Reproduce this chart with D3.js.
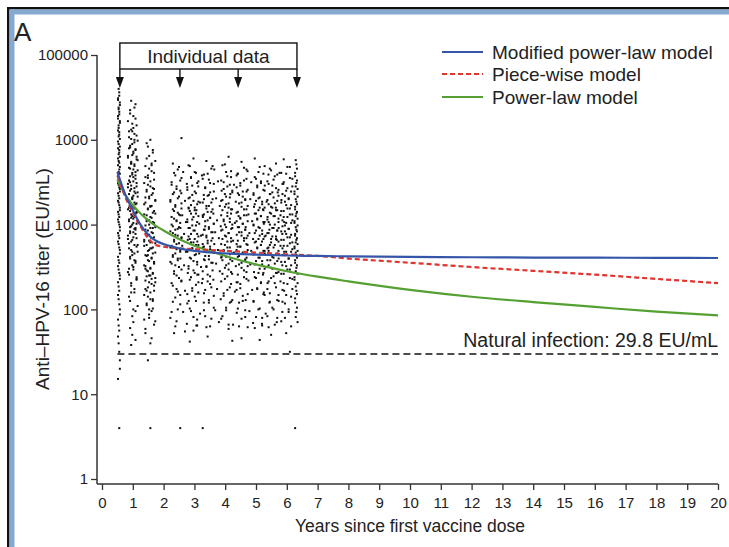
<!DOCTYPE html>
<html>
<head>
<meta charset="utf-8">
<script src="https://cdn.jsdelivr.net/npm/d3@7"></script>
<style>
body { margin: 0; background: #fff; }
text { font-family: "Liberation Sans", Arial, Helvetica, sans-serif; fill: #222; }
</style>
</head>
<body>
<div id="chart"></div>
<script>
// axis ticks
var xTicks = [0, 1, 2, 3, 4, 5, 6, 7, 8, 9, 10, 11, 12, 13, 14, 15, 16, 17, 18, 19, 20];
var yTicks = [1, 10, 100, 1000, 10000, 100000];
var yTickLabels = ["1", "10", "100", "1000", "1000", "100000"]; // as printed

// model curves (years, EU/mL)
var curveTimes = [0.5, 0.75, 1, 1.25, 1.5, 1.75, 2, 2.5, 3, 4, 5, 6, 7, 8, 10, 12, 14, 16, 18, 20];
var modifiedPowerLaw = [4170, 2290, 1480, 1000, 759, 646, 589, 525, 490, 457, 442, 432, 427, 422, 417, 412, 409, 407, 406, 404];
var pieceWise = [3800, 2140, 1380, 955, 692, 575, 550, 525, 513, 490, 468, 447, 427, 398, 355, 316, 285, 257, 229, 204];
var powerLaw = [3390, 2265, 1700, 1350, 1120, 966, 851, 676, 562, 427, 339, 282, 243, 214, 170, 141, 122, 107, 94, 85];

var seriesNames = ["Modified power-law model", "Piece-wise model", "Power-law model"];
var naturalInfection = 29.8;
var arrowTimes = [0.58, 2.53, 4.42, 6.33];

// individual data: per visit, tokens "dLLL" = time offset step d, log10 titer * 100
var visitTimes = [0.55, 1.0, 1.55, 2.4, 2.95, 3.45, 4.05, 4.55, 5.1, 5.55, 6.0, 6.3,
  0.55, 1.0, 1.0, 1.55, 1.55, 2.4, 2.95, 3.45, 4.05, 4.55, 5.1, 5.55, 6.0, 6.3,
  2.68, 3.2, 3.75, 4.3, 4.8, 5.33, 5.78];
var visitStep = [0.02, 0.035, 0.04, 0.04, 0.04, 0.04, 0.04, 0.04, 0.04, 0.04, 0.04, 0.02,
  0.02, 0.035, 0.035, 0.04, 0.04, 0.04, 0.04, 0.04, 0.04, 0.04, 0.04, 0.04, 0.04, 0.02,
  0.03, 0.03, 0.03, 0.03, 0.03, 0.03, 0.03];
var visitPoints = [
  "4460 5452 3447 6441 4436 5430 3425 6420 4414 5409 4404 3398 6392 5388 4383 3378 5373 6368 4362 3357 5352 4347 6342 3337 5331 4326 6320 3315 5309 4303 6297 3290 5284 4277 6270 3262 5255 4247 6240 3232 5222 4212 6200 3188 5175 4160 6140 3118 5060",
  "3446 6438 2431 7425 4419 5414 1410 8405 3401 6397 2393 7389 5386 4382 0379 9376 3372 6369 2366 7362 4359 5356 1352 8349 3346 6343 2340 7337 5334 4331 1328 8325 3322 6319 2316 7313 4310 5307 1304 8301 3298 6295 2292 7289 5285 4282 1278 8274 3270 6266 2262 7257 4252 5247 1241 8235 3228 6220 2210 7198 5185 4170 3158",
  "5400 3392 7385 2378 6372 4366 8361 1356 5351 3347 7343 2339 6335 4331 9328 0324 5321 3318 7314 2311 6308 4305 8302 1299 5296 3293 7290 2287 6284 4281 9278 0275 5272 3269 7266 2263 6260 4257 8254 1251 5248 3245 7242 2239 6236 4232 8228 1224 5220 3215 7210 2205 6198 4190 8182 1172 5160 3140 5060",
  "2372 6365 4358 8352 1347 5342 3338 7333 0329 9325 4321 2318 6314 8311 3307 5304 1300 7297 4294 2290 6287 9284 3280 5277 0273 8270 4266 2262 6258 1254 7250 3245 5240 9234 2228 6221 4214 8206 1197 5186 3172 9402 8060",
  "5378 2369 7361 3355 8349 0344 6339 4335 1331 9327 3323 6320 2316 7313 5309 0306 8303 4299 1296 6293 3289 9286 2283 5279 7276 4272 0268 6264 3260 8256 1251 5246 9241 2235 7229 4222 6215 0207 3198 8188 5175 2162",
  "3375 7366 1359 5353 9348 2343 6338 4334 8330 0326 5322 3319 7315 1312 6308 4305 9301 2298 5295 8291 0288 3285 7281 4278 1274 6271 9267 2263 5259 8255 3250 0245 6239 4233 7226 1219 5211 9202 2192 6180 4168 0060",
  "6380 1370 4362 8356 2350 5345 9340 3336 7332 0328 4324 6320 1317 8313 5310 2306 7303 3300 9296 0293 6290 4286 1283 8280 3276 5273 2269 7265 0261 9257 4252 6247 1242 3236 8230 5223 2216 7208 4199 0189 6177 9163",
  "4374 8365 0358 6352 3346 9341 1337 5333 7329 2325 4321 8318 0314 6311 3307 9304 5301 1297 7294 2291 4287 8284 6281 0277 3274 9270 5266 1262 7258 2253 4249 8244 6238 0232 3225 9218 5210 1201 7191 2180 4166",
  "1378 5368 8360 2354 6349 3344 9340 0335 4331 7327 1324 5320 8317 2313 6310 3307 9303 0300 4297 7293 1290 5287 8283 2280 6276 3273 9269 0265 4261 7257 1253 5248 8243 2237 6231 3224 9217 0209 4200 7190 1178 5164",
  "7372 3364 6357 0351 4346 9341 2336 5332 8328 1324 4320 7317 3313 6310 0306 9303 2300 5296 8293 1290 4286 7283 3279 6276 0272 9269 2265 5261 8257 1252 4248 7243 3237 6231 0224 9217 2209 5200 8190 1179",
  "2377 7368 4360 9354 1348 5343 8339 3334 6330 0326 4323 7319 2316 9312 5309 1305 8302 3299 6295 0292 4289 7285 2282 9279 5275 1272 8268 3264 6260 0256 4251 7247 2242 9236 5230 1223 8215 3207 6197 0186 4172 7150",
  "4376 6366 3357 5349 7342 2336 4330 6324 3318 5313 7307 2302 4297 6292 3287 5282 7277 2272 4267 6261 3255 5249 7242 2235 4227 6218 3208 5197 7185 3060",
  // second batch for the same visits
  "5456 3449 6444 4438 5433 3428 6422 4417 3411 5406 6401 4395 3390 5385 6380 4375 3370 5365 6360 4354 3349 5344 6339 4334 3328 5323 6317 4312 3306 5300 6293 4287 3280 5273 6266 4258 3251 5243 6236 4227 3217 5206 6194 4181 3168 5150 6130",
  "7442 2435 5428 0422 8417 3412 6407 1403 9399 4395 2391 7388 5384 0381 8377 3374 6371 1367 9364 4361 2357 7354 5351 0348 8345 3342 6339 1336 9333 4330 2327 7324 5321 0318 8315 3312 6309 1306 9303 4300 2297 7294 5291 0287 8284 3280 6276 1272 9268 4264 2260 7255 5250 0244 8238 3231 6224 1215 9204 4192 2178 7164",
  "4410 6400 1390 8380 3372 5365 7358 2350 0344 9338 4332 6326 1320 8314 3308 5302 7296 2290 0283 9276 4268 6258 1248 8236 3220 5200",
  "2396 7388 4381 9375 1369 6363 3358 8353 0349 5345 2341 7337 4333 9329 1326 6322 3319 8316 0312 5309 2306 7303 4300 9297 1294 6291 3288 8285 0282 5279 2276 7273 4270 9267 1264 6261 3258 8255 0252 5249 2246 7243 4240 9237 1234 6230 3226 8222 0217 5212 2207 7201 4194 9186 1177 6166",
  "6370 3355 8342 1332 5322 9313 2304 7296 4288 0280 6272 3264 8256 1248 5240 9232 2222 7212 4200 0188",
  "7368 3361 9355 1350 5345 8340 2336 6331 0327 4323 9319 3316 7312 1309 5305 8302 2298 6295 0292 4288 9285 3282 7278 1275 5271 8268 2264 6260 0256 4252 9247 3242 7237 1231 5224 8217 2209 6200 0190 4180",
  "1370 6362 3356 9351 4346 0341 7337 2332 5328 8324 1320 6317 3313 9310 4306 0303 7299 2296 5293 8289 1286 6283 3279 9276 4272 0269 7265 2261 5257 8253 1248 6243 3238 9232 4225 0218 7210 2201 5191 8181",
  "8369 4360 0354 6349 2344 9339 5335 1330 7326 3322 8318 4315 0311 6308 2304 9301 5297 1294 7291 3287 8284 4281 0277 6274 2270 9267 5263 1259 7255 3251 8246 4241 0236 6230 2223 9216 5208 1199 7189 3179",
  "3371 8363 5357 0352 7347 2342 9338 4333 1329 6325 3321 8318 5314 0311 7307 2304 9300 4297 1294 6290 3287 8284 5280 0277 7273 2270 9266 4262 1258 6254 3249 8244 5239 0233 7226 2219 9211 4202 1192 6182",
  "6367 1360 8354 3349 0344 5339 2335 7330 4326 9322 6318 1315 8311 3308 0304 5301 2297 7294 4291 9287 6284 1281 8277 3274 0270 5267 2263 7259 4255 9251 6246 1241 8236 3230 0223 5216 2208 7199 4189 9179",
  "9369 4362 1356 6351 3346 8341 0337 5332 2328 7324 9320 4317 1313 6310 3306 8303 0299 5296 2293 7289 9286 4283 1279 6276 3272 8269 0265 5261 2257 7253 9248 4243 1238 6232 3225 8218 0210 5201 2191 7181",
  "2366 8359 5353 1348 7343 4338 9334 0329 6325 3321 8317 2314 5310 9307 1303 6300 4296 8293 0290 7286 3283 9280 2276 5273 1269 8266 4262 0258 6254 3249 9244 5239 1233 7226 2219 8211 4202 0192 6182 3170",
  "5368 0361 7355 2350 9345 4340 1336 6331 3327 8323 5319 0316 7312 2309 9305 4302 1298 6295 3292 8288 5285 0282 7278 2275 9271 4268 1264 6260 3256 8252 5247 0242 7237 2231 9224 4217 1209 6200 3190 8180",
  "5371 3361 6352 4345 2339 7333 5327 3321 6315 4310 2304 7299 5294 3289 6284 4279 2274 7269 5264 3258 6252 4245 2238 7231 5222 3213 6202 4191",
  // participants seen between the main visits
  "3362 7348 1337 5328 9319 2311 6303 0296 4289 8282 2275 6268 0260 4252 8243 1233 5222 9210 3197 7183 5174",
  "6358 2345 8335 4326 0317 7309 3301 9294 5287 1280 7273 3266 9258 5250 1241 6231 2220 8208 4195 0181",
  "1365 5351 9340 3331 7322 0313 4305 8298 2291 6284 1277 5270 9262 3254 7245 0235 4224 8212 2199 6185",
  "8360 4347 0336 6327 2318 9310 5302 1295 7288 3281 8274 4267 0259 6251 2242 8232 5221 1209 7196 3182",
  "2363 6350 1339 5330 9321 3312 7304 0297 4290 8283 2276 6269 1261 5253 9244 3234 7223 0211 4198 8184",
  "7359 3346 9336 5327 1318 6309 2301 8294 4287 0280 7273 3266 9258 5250 1241 6231 2220 8208 4195 0183",
  "4361 8348 2338 6329 0320 5311 9303 3296 7289 1282 5275 9268 3260 7252 1243 5233 9222 3210 7197 1185"
];

var width = 729, height = 547;
var colors = ["#3556a8", "#e0352f", "#55a032"];

var svg = d3.select("#chart").append("svg")
  .attr("width", width)
  .attr("height", height);

svg.append("rect").attr("width", width).attr("height", height).attr("fill", "#fff");

// frame (top + left edges of the panel)
svg.append("rect").attr("x", 7).attr("y", 7).attr("width", width - 7).attr("height", 2.5).attr("fill", "#111");
svg.append("rect").attr("x", 7).attr("y", 7).attr("width", 2.5).attr("height", height - 7).attr("fill", "#111");
svg.append("rect").attr("x", 9.5).attr("y", 9.5).attr("width", width - 9.5).attr("height", 5).attr("fill", "#86a9d2");
svg.append("rect").attr("x", 9.5).attr("y", 9.5).attr("width", 5).attr("height", height - 9.5).attr("fill", "#86a9d2");

svg.append("text").attr("x", 14).attr("y", 41).attr("font-size", 26).text("A");

var x = d3.scaleLinear().domain([0, 20]).range([102, 718]);
var y = d3.scaleLog().domain([1, 100000]).range([479, 55]);

// y axis
var yAxis = svg.append("g")
  .attr("transform", "translate(97,0)")
  .call(d3.axisLeft(y).tickValues(yTicks).tickFormat(function(d, i) { return yTickLabels[i]; })
    .tickSize(6).tickSizeOuter(0).tickPadding(3));
yAxis.select(".domain").remove();
yAxis.append("line").attr("x1", 0).attr("x2", 0).attr("y1", y(100000)).attr("y2", 484).attr("stroke", "#333").attr("stroke-width", 1.5);

// x axis
var xAxis = svg.append("g")
  .attr("transform", "translate(0,484)")
  .call(d3.axisBottom(x).tickValues(xTicks).tickSize(6).tickSizeOuter(0).tickPadding(7));
xAxis.select(".domain").remove();
xAxis.append("line").attr("x1", 97).attr("x2", x(20)).attr("y1", 0).attr("y2", 0).attr("stroke", "#333").attr("stroke-width", 1.5);

svg.selectAll(".tick line").attr("stroke", "#333").attr("stroke-width", 1.3);
svg.selectAll(".tick text").attr("font-size", 15).attr("fill", "#222")
  .attr("font-family", "Liberation Sans, Arial, sans-serif");

svg.append("text")
  .attr("x", 410).attr("y", 532)
  .attr("text-anchor", "middle").attr("font-size", 17.5)
  .text("Years since first vaccine dose");

svg.append("text")
  .attr("transform", "translate(49,279) rotate(-90)")
  .attr("text-anchor", "middle").attr("font-size", 19)
  .text("Anti\u2013HPV-16 titer (EU/mL)");

// individual data points
var pts = [];
visitPoints.forEach(function(s, i) {
  s.split(" ").forEach(function(tok) {
    var d = +tok[0], v = +tok.slice(1) / 100;
    pts.push({t: visitTimes[i] + (d - 4.5) * visitStep[i], v: Math.pow(10, v)});
  });
});

svg.append("g").selectAll("rect")
  .data(pts)
  .enter().append("rect")
  .attr("x", function(d) { return x(d.t) - 1; })
  .attr("y", function(d) { return y(d.v) - 1; })
  .attr("width", 2).attr("height", 2)
  .attr("fill", "#111");

// natural infection threshold
svg.append("line")
  .attr("x1", x(0.5)).attr("x2", x(20))
  .attr("y1", y(naturalInfection)).attr("y2", y(naturalInfection))
  .attr("stroke", "#111").attr("stroke-width", 1.4).attr("stroke-dasharray", "7,4");
svg.append("text")
  .attr("x", x(20)).attr("y", y(naturalInfection) - 7)
  .attr("text-anchor", "end").attr("font-size", 19.5)
  .text("Natural infection: " + naturalInfection + " EU/mL");

// model curves
var line = d3.line()
  .x(function(d) { return x(d[0]); })
  .y(function(d) { return y(d[1]); })
  .curve(d3.curveMonotoneX);

[powerLaw, pieceWise, modifiedPowerLaw].forEach(function(vals) {
  var k = vals === modifiedPowerLaw ? 0 : vals === pieceWise ? 1 : 2;
  svg.append("path")
    .datum(curveTimes.map(function(t, i) { return [t, vals[i]]; }))
    .attr("d", line)
    .attr("fill", "none")
    .attr("stroke", colors[k])
    .attr("stroke-width", 2.2)
    .attr("stroke-dasharray", k === 1 ? "5,3" : null);
});

// "Individual data" box with arrows
var bx0 = x(arrowTimes[0]), bx1 = x(arrowTimes[arrowTimes.length - 1]);
svg.append("rect")
  .attr("x", bx0).attr("y", 43).attr("width", bx1 - bx0).attr("height", 26)
  .attr("fill", "#fff").attr("stroke", "#111").attr("stroke-width", 1.4);
svg.append("text")
  .attr("x", (bx0 + bx1) / 2).attr("y", 62.5)
  .attr("text-anchor", "middle").attr("font-size", 19)
  .text("Individual data");
var arrows = svg.append("g").selectAll("g").data(arrowTimes).enter().append("g")
  .attr("transform", function(d) { return "translate(" + x(d) + ",0)"; });
arrows.append("line").attr("y1", 69).attr("y2", 79).attr("stroke", "#111").attr("stroke-width", 1.4);
arrows.append("path").attr("d", "M-4,77L4,77L0,88Z").attr("fill", "#111");

// legend
var legend = svg.append("g").selectAll("g").data(seriesNames).enter().append("g")
  .attr("transform", function(d, i) { return "translate(442," + [52, 74, 97][i] + ")"; });
legend.append("line")
  .attr("x1", 0).attr("x2", 41)
  .attr("stroke", function(d, i) { return colors[i]; })
  .attr("stroke-width", 2)
  .attr("stroke-dasharray", function(d, i) { return i === 1 ? "5,3" : null; });
legend.append("text")
  .attr("x", 50).attr("dy", "0.35em").attr("font-size", 19)
  .text(function(d) { return d; });
</script>
</body>
</html>
